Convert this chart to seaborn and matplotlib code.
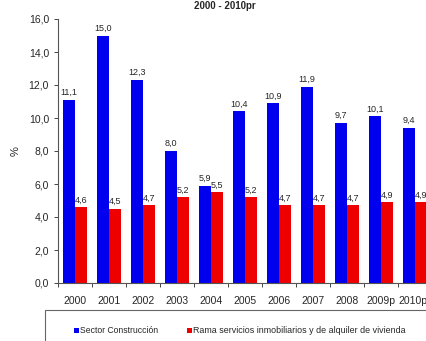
import pandas as pd
import numpy as np
import matplotlib
matplotlib.use('Agg')
import matplotlib.pyplot as plt
import seaborn as sns
from matplotlib.patches import Rectangle

years = ['2000', '2001', '2002', '2003', '2004', '2005', '2006', '2007', '2008', '2009p', '2010pr']
construccion = [11.1, 15.0, 12.3, 8.0, 5.9, 10.4, 10.9, 11.9, 9.7, 10.1, 9.4]
inmobiliarios = [4.6, 4.5, 4.7, 5.2, 5.5, 5.2, 4.7, 4.7, 4.7, 4.9, 4.9]
series_names = ['Sector Construcción', 'Rama servicios inmobiliarios y de alquiler de vivienda']

df = pd.DataFrame({
    'year': years * 2,
    'value': construccion + inmobiliarios,
    'serie': [series_names[0]] * len(years) + [series_names[1]] * len(years),
})

sns.set_style('white')
plt.rcParams['font.family'] = ['Liberation Sans', 'DejaVu Sans']

fig = plt.figure(figsize=(4.27, 3.41), dpi=100)
ax = fig.add_axes([58 / 427, 1 - 283 / 341, (432 - 58) / 427, (283 - 19) / 341])

sns.barplot(data=df, x='year', y='value', hue='serie', palette=['#0000ee', '#ee0000'],
            width=0.7, saturation=1, edgecolor='none', ax=ax, legend=False)

# value labels
for cont in ax.containers:
    ax.bar_label(cont, labels=[f'{v:.1f}'.replace('.', ',') for v in cont.datavalues],
                 fontsize=6.5, padding=2)

ax.set_ylim(0, 16)
ax.set_xlim(-0.5, 10.5)
ax.set_yticks(np.arange(0, 17, 2))
ax.set_yticklabels([f'{v:.1f}'.replace('.', ',') for v in np.arange(0, 17, 2)], fontsize=7.5)
ax.set_xticks(range(len(years)))
ax.set_xticklabels(years, fontsize=7.5)
ax.set_xticks(np.arange(-0.5, 11, 1), minor=True)
ax.tick_params(axis='x', which='major', length=0, pad=9)
ax.tick_params(axis='x', which='minor', length=3, width=0.6, direction='out', bottom=True)
ax.tick_params(axis='y', length=3, width=0.6, direction='out', left=True)
ax.set_xlabel('')
ax.set_ylabel('%', fontsize=8, labelpad=6)
for s in ['top', 'right']:
    ax.spines[s].set_visible(False)
for s in ['left', 'bottom']:
    ax.spines[s].set_color('#555555')
    ax.spines[s].set_linewidth(0.8)

fig.text(225 / 427, 1 - 6 / 341, '2000 - 2010pr', ha='center', va='center',
         fontsize=7, fontweight='bold')

# legend box
fig.patches.append(Rectangle((45 / 427, -0.05), 0.95, 1 - 310 / 341 + 0.05,
                             transform=fig.transFigure, facecolor='white',
                             edgecolor='#666666', linewidth=0.8))
fig.patches.append(Rectangle((74 / 427, 1 - 333 / 341), 5 / 427, 5 / 341,
                             transform=fig.transFigure, facecolor='#0000ee', edgecolor='none'))
fig.text(80 / 427, 1 - 330.5 / 341, series_names[0], fontsize=6.2, va='center')
fig.patches.append(Rectangle((187 / 427, 1 - 333 / 341), 5 / 427, 5 / 341,
                             transform=fig.transFigure, facecolor='#ee0000', edgecolor='none'))
fig.text(193 / 427, 1 - 330.5 / 341, series_names[1], fontsize=6.4, va='center')

fig.savefig('out.png', dpi=100)
